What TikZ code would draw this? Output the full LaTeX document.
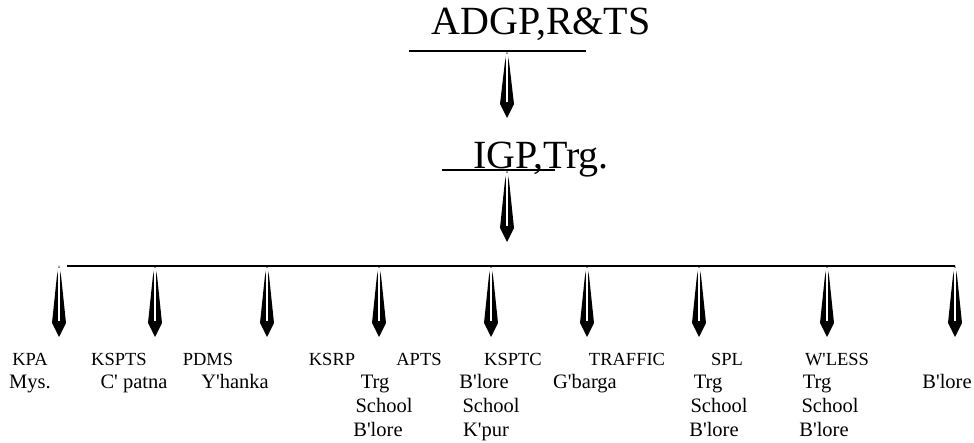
\documentclass[tikz,border=0pt]{standalone}
\usepackage{fontspec}
\setmainfont{Liberation Serif}[Ligatures=TeXOff]
\usetikzlibrary{calc}
\tikzset{
  bigtxt/.style={inner sep=0pt, anchor=base, font=\fontsize{40}{48}\selectfont},
  toptxt/.style={inner sep=0pt, anchor=base, font=\fontsize{18.5}{22}\selectfont},
  lowtxt/.style={inner sep=0pt, anchor=base, font=\fontsize{20.5}{24}\selectfont},
  rule/.style={line width=1.5pt},
}
\newcommand\drawnib[2]{%
  \fill let \p1=(#1), \p2=(#2) in (\x1,\y1) -- (\x1-2.2pt,\y1-12pt) -- (\x2-7pt,\y2+14pt) -- (\x2,\y2) -- (\x2+7pt,\y2+14pt) -- (\x1+2.2pt,\y1-12pt) -- cycle;
  \draw[white, line width=1.1pt] let \p1=(#1), \p2=(#2) in (\x1,\y1-3pt) -- (\x2,\y2+16pt);
}
\begin{document}
\begin{tikzpicture}[x=1pt,y=-1pt]
\useasboundingbox (0,0) rectangle (974,443);
% top level
\node[bigtxt] (adgp) at (541,35) {ADGP,R\&TS};
\coordinate (ula) at (409,51);
\coordinate (ulb) at (586,51);
\draw[rule] (ula) -- (ulb);
\coordinate (n1t) at (507,51);
\coordinate (n1b) at (507,118);
\drawnib{n1t}{n1b}
% second level
\node[bigtxt] (igp) at (541,169) {IGP,Trg.};
\coordinate (u2a) at (442,170);
\coordinate (u2b) at (555,170);
\draw[rule] (u2a) -- (u2b);
\coordinate (n2t) at (507,170);
\coordinate (n2b) at (507,242);
\drawnib{n2t}{n2b}
% bus
\coordinate (busa) at (67,266);
\coordinate (busb) at (955,266);
\draw[rule] (busa) -- (busb);
\foreach \i/\xx in {1/59,2/155,3/267,4/379,5/491,6/587,7/699,8/827,9/955}{
  \coordinate (t\i) at (\xx,265);
  \coordinate (b\i) at (\xx,337);
  \drawnib{t\i}{b\i}
}
% row 1
\node[toptxt] (kpa) at (30,365) {KPA};
\node[toptxt] (kspts) at (119,365) {KSPTS};
\node[toptxt] (pdms) at (208,365) {PDMS};
\node[toptxt] (ksrp) at (332,365) {KSRP};
\node[toptxt] (apts) at (419,365) {APTS};
\node[toptxt] (ksptc) at (513,365) {KSPTC};
\node[toptxt] (traffic) at (627,365) {TRAFFIC};
\node[toptxt] (spl) at (727,365) {SPL};
\node[toptxt] (wless) at (837,365) {W'LESS};
% row 2
\node[lowtxt] (mys) at (30,388) {Mys.};
\node[lowtxt] (cpatna) at (134,388) {C' patna};
\node[lowtxt] (yhanka) at (235,388) {Y'hanka};
\node[lowtxt] (trga) at (375,388) {Trg};
\node[lowtxt] (blorea) at (484,388) {B'lore};
\node[lowtxt] (gbarga) at (585,388) {G'barga};
\node[lowtxt] (trgb) at (708,388) {Trg};
\node[lowtxt] (trgc) at (817,388) {Trg};
\node[lowtxt] (bloreb) at (947,388) {B'lore};
% row 3
\node[lowtxt] (schoola) at (384,412) {School};
\node[lowtxt] (schoolb) at (491,412) {School};
\node[lowtxt] (schoolc) at (719,412) {School};
\node[lowtxt] (schoold) at (830,412) {School};
% row 4
\node[lowtxt] (blorec) at (378,436) {B'lore};
\node[lowtxt] (kpur) at (486,436) {K'pur};
\node[lowtxt] (blored) at (714,436) {B'lore};
\node[lowtxt] (bloree) at (824,436) {B'lore};
\end{tikzpicture}
\end{document}
